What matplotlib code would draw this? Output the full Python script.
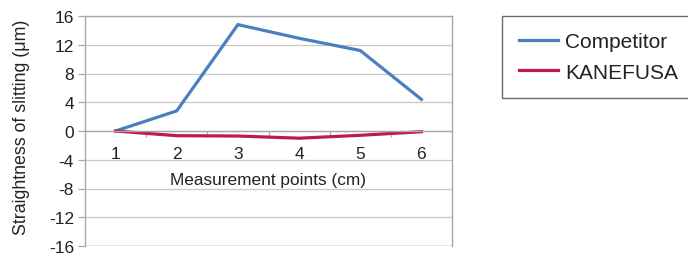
import matplotlib
matplotlib.use("Agg")
import matplotlib.pyplot as plt
from matplotlib.ticker import FixedLocator, NullFormatter

plt.rcParams['font.family'] = ['Liberation Sans', 'DejaVu Sans']

points = [1, 2, 3, 4, 5, 6]
competitor = [0.0, 2.8, 14.8, 12.9, 11.2, 4.4]
kanefusa = [0.0, -0.65, -0.7, -1.0, -0.6, -0.1]
y_ticks = [16, 12, 8, 4, 0, -4, -8, -12, -16]

W, H = 688, 255
fig = plt.figure(figsize=(W / 100, H / 100), dpi=100)
ax = fig.add_axes([85 / W, 8 / H, (452 - 85) / W, (247 - 17) / H])

l1, = ax.plot(points, competitor, color='#4a7fc0', lw=2.3, solid_joinstyle='miter', label='Competitor')
l2, = ax.plot(points, kanefusa, color='#bf1a4b', lw=2.3, solid_joinstyle='miter', label='KANEFUSA')

ax.set_xlim(0.5, 6.5)
ax.set_ylim(-16, 16)
ax.set_yticks(y_ticks)
ax.set_yticklabels([str(v) for v in y_ticks])
ax.grid(axis='y', color='#c8c8c8', lw=0.9)
ax.set_axisbelow(True)

for s in ['top', 'right', 'left']:
    ax.spines[s].set_color('#a8a8a8')
    ax.spines[s].set_linewidth(1.0)
ax.spines['bottom'].set_position(('data', 0))
ax.spines['bottom'].set_color('#a8a8a8')
ax.spines['bottom'].set_linewidth(1.0)

ax.tick_params(axis='y', length=5, width=0.9, color='#a8a8a8', labelsize=12.5, pad=3, labelcolor='#222222')
ax.set_xticks(points)
ax.set_xticklabels([str(p) for p in points])
ax.tick_params(axis='x', which='major', length=0, labelsize=12.5, pad=11, labelcolor='#222222')
ax.xaxis.set_minor_locator(FixedLocator([1.5, 2.5, 3.5, 4.5, 5.5]))
ax.xaxis.set_minor_formatter(NullFormatter())
ax.tick_params(axis='x', which='minor', length=4, width=0.9, color='#a8a8a8', direction='out')

ax.axhline(-16, color='#a8a8a8', lw=1.0)

ax.text(3.49, -6.8, 'Measurement points (cm)', ha='center', va='center', fontsize=12.4, color='#222222')
fig.text(22 / W, 1 - 127 / H, 'Straightness of slitting (μm)', rotation=90, ha='center', va='center',
         fontsize=12.8, color='#222222')

leg = fig.legend(handles=[l1, l2], loc='upper left', bbox_to_anchor=(502 / W, 1 - 16.5 / H),
                 frameon=True, fancybox=False, fontsize=15, handlelength=1.9, handletextpad=0.33,
                 borderpad=0.8, labelspacing=0.55, borderaxespad=0)
leg.get_frame().set_edgecolor('#444444')
leg.get_frame().set_linewidth(1.0)
for t in leg.get_texts():
    t.set_color('#222222')

fig.savefig('out.png', dpi=100)
